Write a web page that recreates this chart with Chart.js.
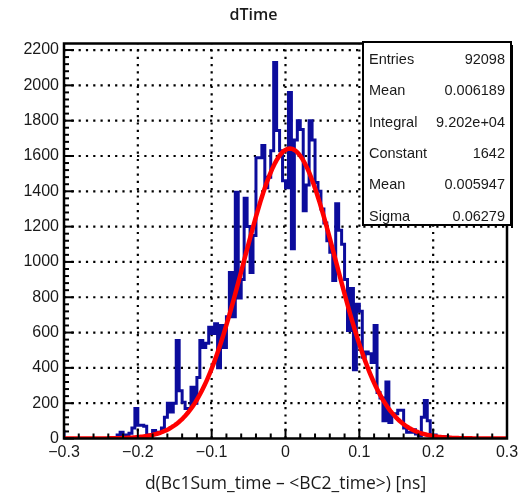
<!DOCTYPE html>
<html>
<head>
    <title>dTime</title>
    <script src="https://cdn.jsdelivr.net/npm/chart.js"></script>
    <style>
        body { margin: 0; background: #fff; }
        #wrap { width: 526px; height: 501px; }
    </style>
</head>
<body>
    <div id="wrap"><canvas id="myChart" width="526" height="501"></canvas></div>

    <script>
        // histogram binning
        var binLow = -0.3;
        var binWidth = 0.004;
        var binCounts = [
            50, 0, 0, 0, 0, 0, 0, 0, 0, 0,
            0, 0, 0, 0, 0, 0, 0, 0, 0, 20,
            35, 20, 10, 30, 60, 170, 75, 75, 70, 20,
            15, 45, 30, 35, 60, 120, 200, 150, 200, 555,
            270, 205, 170, 170, 290, 200, 345, 555, 515, 540,
            630, 595, 650, 400, 640, 515, 690, 940, 690, 1395,
            795, 900, 1360, 1200, 940, 1150, 1590, 1590, 1660, 1420,
            1480, 1630, 2130, 1745, 1630, 1460, 1420, 1960, 1075, 1690,
            1800, 1750, 1290, 1435, 1800, 1690, 1450, 1400, 1300, 1220,
            1120, 1055, 895, 1330, 1180, 1100, 900, 612, 850, 390,
            760, 720, 460, 490, 480, 430, 640, 260, 230, 100,
            320, 90, 140, 140, 160, 160, 60, 35, 35, 50,
            25, 15, 120, 215, 100, 20, 20, 10, 0, 0,
            10, 0, 0, 5, 0, 0, 0, 0, 0, 0,
            0, 0, 0, 0, 0, 0, 0, 0, 0, 0
        ];

        // gaussian fit parameters
        var fitConstant = 1642;
        var fitMean = 0.005947;
        var fitSigma = 0.06279;

        // stats box rows
        var statNames = ['Entries', 'Mean', 'Integral', 'Constant', 'Mean', 'Sigma'];
        var statValues = ['92098', '0.006189', '9.202e+04', '1642', '0.005947', '0.06279'];

        // axis ticks
        var xTickValues = [-0.3, -0.2, -0.1, 0, 0.1, 0.2, 0.3];
        var yTickValues = [0, 200, 400, 600, 800, 1000, 1200, 1400, 1600, 1800, 2000, 2200];
        var xMin = -0.3, xMax = 0.3, yMin = 0, yMax = 2237;

        var textColor = '#1a1a1a';

        // step outline points at bin edges
        var histPoints = binCounts.map(function (c, i) {
            return { x: binLow + i * binWidth, y: c };
        });
        histPoints.push({ x: binLow + binCounts.length * binWidth, y: binCounts[binCounts.length - 1] });

        // fit curve sampled along the axis range
        var fitPoints = [];
        for (var k = 0; k <= 300; k++) {
            var fx = xMin + (xMax - xMin) * k / 300;
            var dz = (fx - fitMean) / fitSigma;
            fitPoints.push({ x: fx, y: fitConstant * Math.exp(-0.5 * dz * dz) });
        }

        var rootFrame = {
            id: 'rootFrame',
            beforeDatasetsDraw: function (chart) {
                var c = chart.ctx, a = chart.chartArea;
                var xs = chart.scales.x, ys = chart.scales.y;
                c.save();
                c.strokeStyle = '#000';
                c.lineWidth = 2.2;
                c.setLineDash([2.2, 5.1]);
                xTickValues.forEach(function (v) {
                    var px = xs.getPixelForValue(v);
                    if (px <= a.left + 2 || px >= a.right - 2) return;
                    c.beginPath(); c.moveTo(px, a.bottom); c.lineTo(px, a.top); c.stroke();
                });
                yTickValues.forEach(function (v) {
                    var py = ys.getPixelForValue(v);
                    if (py >= a.bottom - 2) return;
                    c.beginPath(); c.moveTo(a.left, py); c.lineTo(a.right, py); c.stroke();
                });
                c.restore();
            },
            afterDatasetsDraw: function (chart) {
                var c = chart.ctx, a = chart.chartArea;
                var xs = chart.scales.x, ys = chart.scales.y;
                c.save();
                c.strokeStyle = '#000';
                c.lineWidth = 2;
                // minor and major ticks, pointing into the frame
                for (var i = 0; i <= 30; i++) {
                    var px = xs.getPixelForValue(xMin + i * 0.02);
                    var len = (i % 5 === 0) ? 10 : 5;
                    c.beginPath(); c.moveTo(px, a.bottom); c.lineTo(px, a.bottom - len); c.stroke();
                }
                for (var j = 0; j * 40 <= yMax; j++) {
                    var py = ys.getPixelForValue(j * 40);
                    var l2 = (j % 5 === 0) ? 10 : 5;
                    c.beginPath(); c.moveTo(a.left, py); c.lineTo(a.left + l2, py); c.stroke();
                }
                c.lineWidth = 2.5;
                c.strokeRect(a.left, a.top, a.right - a.left, a.bottom - a.top);
                c.restore();
            },
            afterDraw: function (chart) {
                var c = chart.ctx;
                var bx = 363, by = 42, bw = 148, bh = 183;
                c.save();
                c.fillStyle = '#fff';
                c.fillRect(bx, by, bw, bh);
                c.strokeStyle = '#000';
                c.lineWidth = 2;
                c.strokeRect(bx, by, bw, bh);
                c.fillStyle = '#000';
                c.fillRect(bx + bw, by + 3, 2, bh);
                c.fillStyle = textColor;
                c.font = '14.5px "Liberation Sans", Arial, sans-serif';
                c.textBaseline = 'middle';
                statNames.forEach(function (name, i) {
                    var ty = 60 + i * 31.3;
                    c.textAlign = 'left';
                    c.fillText(name, bx + 6, ty);
                    c.textAlign = 'right';
                    c.fillText(statValues[i], bx + bw - 6, ty);
                });
                c.restore();
            }
        };

        var ctx = document.getElementById('myChart').getContext('2d');
        var myChart = new Chart(ctx, {
            type: 'line',
            data: {
                datasets: [
                    {
                        label: 'fit',
                        data: fitPoints,
                        borderColor: '#ff0000',
                        borderWidth: 4.5,
                        pointRadius: 0,
                        tension: 0,
                        fill: false
                    },
                    {
                        label: 'dTime',
                        data: histPoints,
                        borderColor: '#0c0c9c',
                        borderWidth: 3,
                        pointRadius: 0,
                        stepped: 'after',
                        fill: false
                    }
                ]
            },
            options: {
                responsive: false,
                animation: false,
                events: [],
                layout: { padding: { left: 0, right: 19, top: 0, bottom: 0 } },
                plugins: {
                    legend: { display: false },
                    tooltip: { enabled: false },
                    title: {
                        display: true,
                        text: 'dTime',
                        color: textColor,
                        font: { family: '"Open Sans", sans-serif', size: 16, weight: '600' },
                        padding: { top: 6, bottom: 18.3 }
                    }
                },
                scales: {
                    x: {
                        type: 'linear',
                        min: xMin,
                        max: xMax,
                        grid: { display: false, drawTicks: false },
                        border: { display: false },
                        afterBuildTicks: function (s) {
                            s.ticks = xTickValues.map(function (v) { return { value: v }; });
                        },
                        afterFit: function (s) { s.height = 62.5; },
                        ticks: {
                            padding: 4,
                            color: textColor,
                            maxRotation: 0,
                            autoSkip: false,
                            font: { family: '"Liberation Sans", Arial, sans-serif', size: 16 },
                            callback: function (v) {
                                if (Math.abs(v) < 1e-9) return '0';
                                return (v < 0 ? '\u2212' : '') + Math.abs(v).toFixed(1);
                            }
                        },
                        title: {
                            display: true,
                            text: 'd(Bc1Sum_time \u2013 <BC2_time>) [ns]',
                            color: textColor,
                            font: { family: '"Open Sans", sans-serif', size: 17.5 },
                            padding: { top: 0, bottom: 6 }
                        }
                    },
                    y: {
                        type: 'linear',
                        min: yMin,
                        max: yMax,
                        grid: { display: false, drawTicks: false },
                        border: { display: false },
                        afterBuildTicks: function (s) {
                            s.ticks = yTickValues.map(function (v) { return { value: v }; });
                        },
                        afterFit: function (s) { s.width = 64; },
                        ticks: {
                            padding: 5,
                            color: textColor,
                            autoSkip: false,
                            font: { family: '"Liberation Sans", Arial, sans-serif', size: 16 },
                            callback: function (v) { return String(v); }
                        }
                    }
                }
            },
            plugins: [rootFrame]
        });
    </script>
</body>
</html>
